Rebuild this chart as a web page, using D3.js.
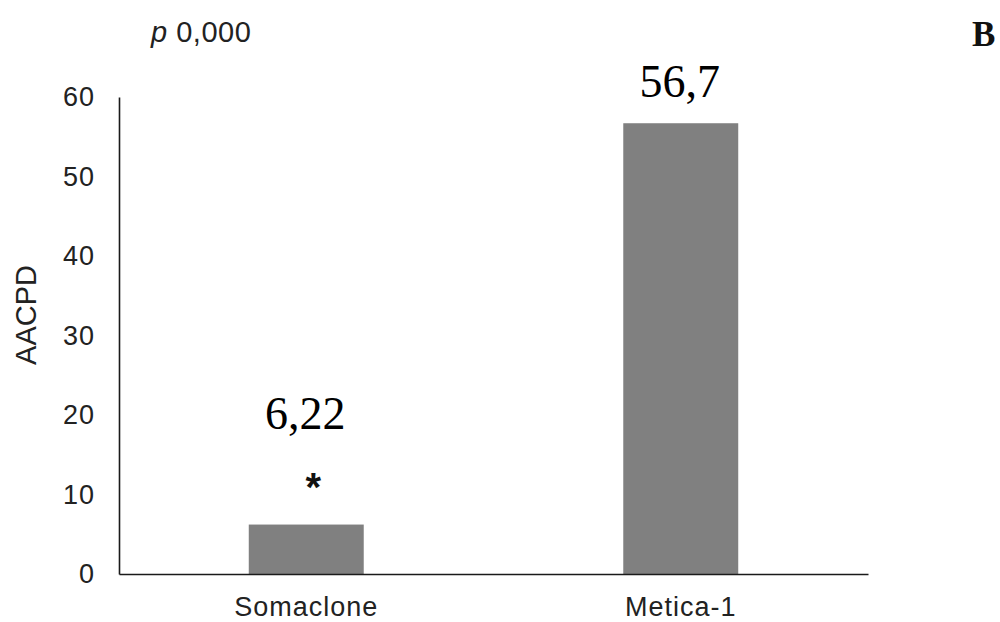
<!DOCTYPE html>
<html>
<head>
<meta charset="utf-8">
<script src="https://cdn.jsdelivr.net/npm/d3@7"></script>
<style>
  html, body { margin: 0; padding: 0; background: #fff; }
  svg { display: block; }
</style>
</head>
<body>
<svg id="chart" width="1000" height="622"></svg>
<script>
// ---- data ----
const categories = ["Somaclone", "Metica-1"];
const values = [6.22, 56.7];
const valueLabels = ["6,22", "56,7"];
const significant = [true, false];
const yTicks = [0, 10, 20, 30, 40, 50, 60];
const yLabel = "AACPD";
const pLabel = "0,000";
const panelLetter = "B";

// ---- layout ----
const svg = d3.select("#chart");
const mLeft = 119, mRight = 868, mTop = 97, mBottom = 574;

const x = d3.scaleBand()
  .domain(categories)
  .range([mLeft, mRight])
  .paddingInner(0.693)
  .paddingOuter(0.3465);

const y = d3.scaleLinear().domain([0, 60]).range([mBottom, mTop]);

// bars
svg.append("g").selectAll("rect")
  .data(categories)
  .join("rect")
  .attr("x", d => x(d))
  .attr("y", (d, i) => y(values[i]))
  .attr("width", x.bandwidth())
  .attr("height", (d, i) => y(0) - y(values[i]))
  .attr("fill", "#808080");

// y axis
const yAxis = svg.append("g")
  .attr("transform", `translate(${mLeft},0)`)
  .call(d3.axisLeft(y).tickValues(yTicks).tickSize(0).tickPadding(24).tickFormat(d3.format("d")));
yAxis.select(".domain").attr("stroke", "#1a1a1a").attr("stroke-width", 1.6);
yAxis.selectAll("text")
  .attr("font-family", "Arial, 'Liberation Sans', sans-serif")
  .attr("font-size", 27)
  .attr("letter-spacing", 1)
  .attr("fill", "#222");

// x axis
const xAxis = svg.append("g")
  .attr("transform", `translate(0,${mBottom})`)
  .call(d3.axisBottom(x).tickSize(0).tickPadding(23));
xAxis.select(".domain").attr("stroke", "#1a1a1a").attr("stroke-width", 1.6);
xAxis.selectAll("text")
  .attr("font-family", "Arial, 'Liberation Sans', sans-serif")
  .attr("font-size", 27)
  .attr("letter-spacing", 1)
  .attr("fill", "#222");

// y label
svg.append("text")
  .attr("transform", `translate(36,315) rotate(-90)`)
  .attr("text-anchor", "middle")
  .attr("font-family", "Arial, 'Liberation Sans', sans-serif")
  .attr("font-size", 29)
  .attr("fill", "#222")
  .text(yLabel);

// value labels
svg.append("g").selectAll("text")
  .data(categories)
  .join("text")
  .attr("x", d => x(d) + x.bandwidth() / 2 - 1)
  .attr("y", (d, i) => y(values[i]) - (significant[i] ? 96 : 26))
  .attr("text-anchor", "middle")
  .attr("font-family", "'Times New Roman', 'Liberation Serif', serif")
  .attr("font-size", 46)
  .attr("fill", "#000")
  .text((d, i) => valueLabels[i]);

// significance asterisk
svg.append("g").selectAll("text")
  .data(categories.filter((d, i) => significant[i]))
  .join("text")
  .attr("x", d => x(d) + x.bandwidth() / 2 + 7)
  .attr("y", d => y(values[categories.indexOf(d)]) - 24)
  .attr("text-anchor", "middle")
  .attr("font-family", "Arial, 'Liberation Sans', sans-serif")
  .attr("font-weight", "bold")
  .attr("font-size", 40)
  .attr("fill", "#111")
  .text("*");

// p value
const p = svg.append("text")
  .attr("x", 151)
  .attr("y", 42)
  .attr("font-family", "Arial, 'Liberation Sans', sans-serif")
  .attr("font-size", 29)
  .attr("letter-spacing", 0.5)
  .attr("fill", "#222");
p.append("tspan").attr("font-style", "italic").text("p");
p.append("tspan").text(" " + pLabel);

// panel letter
svg.append("text")
  .attr("x", 972)
  .attr("y", 46)
  .attr("font-family", "'Times New Roman', 'Liberation Serif', serif")
  .attr("font-weight", "bold")
  .attr("font-size", 35)
  .attr("fill", "#111")
  .text(panelLetter);
</script>
</body>
</html>
